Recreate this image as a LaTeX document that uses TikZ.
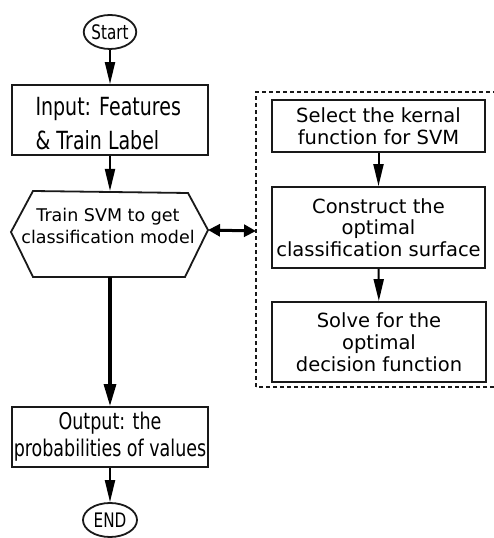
\documentclass[tikz,border=0pt]{standalone}
\usepackage{fontspec}
\setmainfont{DejaVu Sans}
\newfontfamily\narrowfont[FakeStretch=0.76]{DejaVu Sans}
\usetikzlibrary{arrows.meta,shapes.geometric}
\tikzset{
  x=1pt, y=1pt,
  boxline/.style={draw=black!90, line width=1.8pt},
  procbox/.style={boxline, rectangle, inner sep=0pt},
  term/.style={boxline, ellipse, inner sep=0pt, minimum width=52, minimum height=34},
  flow/.style={line width=2pt, -{Triangle[length=22pt,width=10pt]}},
  heavyflow/.style={line width=3.2pt, -{Triangle[length=22pt,width=12pt]}},
  linkflow/.style={line width=3pt, {Triangle[length=12pt,width=12pt]}-{Triangle[length=12pt,width=12pt]}},
  groupframe/.style={draw=black!90, line width=1.4pt, dash pattern=on 4pt off 3pt},
}
\begin{document}
\begin{tikzpicture}
\useasboundingbox (0,0) rectangle (493,538);

% main column
\node[term] (start) at (110,506) {\narrowfont\fontsize{20}{20}\selectfont Start};
\node[procbox, minimum width=196, minimum height=70] (input) at (110,418) {};
\node[anchor=west, align=left, font=\narrowfont\fontsize{25}{34}\selectfont] (inputtxt) at (32,414)
  {Input: Features\\\& Train Label};

% hexagonal training step
\coordinate (hexT) at (110,347);
\coordinate (hexB) at (110,261);
\coordinate (hexL) at (11,306);
\coordinate (hexR) at (208,308);
\draw[boxline, line join=miter] (hexL) -- (33,347) -- (188,345) -- (hexR) -- (185,261) -- (33,261) -- cycle;
\node[align=center, font=\fontsize{17.5}{22}\selectfont] (traintxt) at (108,312)
  {Train SVM to get\\classification model};

\node[procbox, minimum width=196, minimum height=60] (output) at (110,101) {};
\node[align=center, font=\narrowfont\fontsize{23}{27}\selectfont] (outputtxt) at (110,101)
  {Output: the\\probabilities of values};
\node[term, minimum width=54] (end) at (110,18) {\narrowfont\fontsize{20}{20}\selectfont END};

% SVM detail group
\node[procbox, minimum width=213, minimum height=52, align=center, font=\fontsize{19.5}{22}\selectfont] (kernel) at (378.5,412)
  {Select the kernal\\function for SVM};
\node[procbox, minimum width=213, minimum height=81, align=center, font=\fontsize{19.5}{21.5}\selectfont] (surface) at (378.5,310.5)
  {Construct the\\optimal\\classification surface};
\node[procbox, minimum width=214, minimum height=80, align=center, font=\fontsize{19.5}{22}\selectfont] (decision) at (379,196)
  {Solve for the\\optimal\\decision function};
\draw[groupframe] (256,151) rectangle (500,446);
\coordinate (frameW) at (256,307);

% connectors
\draw[flow] (start) -- (input);
\draw[flow] (input) -- (hexT);
\draw[heavyflow] (hexB) -- (output);
\draw[flow] (output) -- (end);
\draw[linkflow] (hexR) -- (frameW);
\draw[flow] (kernel) -- (surface);
\draw[flow] (surface) -- (decision);
\end{tikzpicture}
\end{document}
